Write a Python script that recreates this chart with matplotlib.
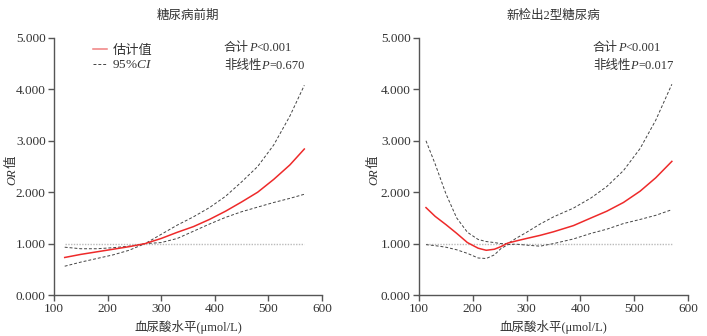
import matplotlib
matplotlib.use("Agg")
import matplotlib.pyplot as plt
from matplotlib.ticker import FormatStrFormatter
from matplotlib.lines import Line2D

plt.rcParams['font.family'] = ['Liberation Serif', 'Noto Sans CJK SC', 'DejaVu Sans']
plt.rcParams['mathtext.fontset'] = 'custom'
plt.rcParams['mathtext.it'] = 'Liberation Serif:italic'
plt.rcParams['mathtext.rm'] = 'Liberation Serif'

# ---- data: 糖尿病前期 ----
x_pre = [120, 150, 180, 210, 240, 270, 300, 330, 360, 390, 420, 450, 480, 510, 540, 567]
est_pre = [0.73, 0.79, 0.84, 0.89, 0.94, 1.00, 1.10, 1.22, 1.33, 1.47, 1.63, 1.81, 2.00, 2.25, 2.53, 2.84]
up_pre = [0.93, 0.90, 0.90, 0.92, 0.95, 1.00, 1.18, 1.36, 1.52, 1.70, 1.92, 2.20, 2.50, 2.92, 3.48, 4.08]
lo_pre = [0.56, 0.64, 0.71, 0.78, 0.87, 1.00, 1.02, 1.10, 1.24, 1.38, 1.51, 1.62, 1.71, 1.80, 1.88, 1.96]

# ---- data: 新检出2型糖尿病 ----
x_new = [113, 130, 150, 170, 190, 210, 225, 240, 252, 265, 280, 300, 325, 350, 387, 420, 449, 480, 511, 540, 570]
est_new = [1.70, 1.53, 1.37, 1.20, 1.02, 0.91, 0.87, 0.89, 0.94, 1.01, 1.05, 1.10, 1.16, 1.23, 1.35, 1.50, 1.63, 1.80, 2.02, 2.28, 2.60]
up_new = [3.00, 2.55, 1.97, 1.50, 1.22, 1.08, 1.04, 1.02, 1.00, 1.00, 1.10, 1.22, 1.38, 1.52, 1.69, 1.89, 2.11, 2.42, 2.85, 3.40, 4.10]
lo_new = [0.98, 0.96, 0.93, 0.88, 0.81, 0.72, 0.71, 0.78, 0.90, 0.98, 0.99, 0.97, 0.95, 1.00, 1.09, 1.20, 1.28, 1.39, 1.47, 1.55, 1.66]

titles = ['糖尿病前期', '新检出2型糖尿病']
p_total = ['<0.001', '<0.001']
p_nonlin = ['=0.670', '=0.017']
xticks = [100, 200, 300, 400, 500, 600]
yticks = [0, 1, 2, 3, 4, 5]

W, H = 707, 336
fig = plt.figure(figsize=(W / 100, H / 100), dpi=100)
axes = [fig.add_axes([54 / W, 41 / H, 268 / W, 257 / H]),
        fig.add_axes([419 / W, 41 / H, 269 / W, 257 / H])]
renderer = fig.canvas.get_renderer()

spine_c = '#555555'
text_c = '#333333'


def seg_text(x_px, y_px, segments, size, rotation=0):
    """Draw consecutive text segments [(text, italic)] starting at pixel pos."""
    pos = x_px if rotation == 0 else y_px
    for s, it in segments:
        if rotation == 0:
            t = fig.text(pos / W, y_px / H, s, fontsize=size, color=text_c,
                         fontstyle='italic' if it else 'normal', va='center', ha='left')
            pos += t.get_window_extent(renderer).width
        else:
            t = fig.text(x_px / W, pos / H, s, fontsize=size, color=text_c,
                         fontstyle='italic' if it else 'normal', rotation=90,
                         ha='center', va='bottom')
            pos += t.get_window_extent(renderer).height


datasets = [(x_pre, est_pre, up_pre, lo_pre), (x_new, est_new, up_new, lo_new)]
txt_x = [224, 593]
ylab_x = [12, 374]

for i, ax in enumerate(axes):
    x, est, up, lo = datasets[i]
    ax.plot([x[0], x[-1]], [1, 1], color='#bbbbbb', lw=1.0, ls=(0, (1, 1)), zorder=1)
    ax.plot(x, up, color='#444444', lw=0.7, ls=(0, (3, 2)), zorder=2)
    ax.plot(x, lo, color='#444444', lw=0.7, ls=(0, (3, 2)), zorder=2)
    ax.plot(x, est, color='#ee2a2a', lw=1.1, zorder=3)
    ax.set_xlim(100, 600)
    ax.set_ylim(0, 5)
    ax.set_xticks(xticks)
    ax.set_yticks(yticks)
    ax.yaxis.set_major_formatter(FormatStrFormatter('%.3f'))
    for s in ['top', 'right']:
        ax.spines[s].set_visible(False)
    for s in ['left', 'bottom']:
        ax.spines[s].set_color(spine_c)
        ax.spines[s].set_linewidth(1.0)
    ax.tick_params(direction='out', length=4, width=1.0, color=spine_c,
                   labelsize=9.5, labelcolor=text_c, pad=2)
    ax.set_xlabel('血尿酸水平(μmol/L)', fontsize=9, color=text_c, labelpad=3)
    ax.set_title(titles[i], fontsize=9, color=text_c, pad=14)
    seg_text(txt_x[i], H - 48, [('合计', False), ('P', True), (p_total[i], False)], 9)
    seg_text(txt_x[i], H - 66, [('非线性', False), ('P', True), (p_nonlin[i], False)], 9)
    seg_text(ylab_x[i], H - 185, [('OR', True), ('值', False)], 9, rotation=90)

handles = [Line2D([], [], color='#f08080', lw=1.1),
           Line2D([], [], color='#444444', lw=0.7, ls=(0, (3, 2)))]
leg = axes[0].legend(handles, ['估计值', '95%$CI$'], loc='upper left',
                     bbox_to_anchor=(0.1, 1.02), frameon=False, fontsize=9.5,
                     handlelength=1.1, handletextpad=0.4, labelspacing=0.15)
for t in leg.get_texts():
    t.set_color(text_c)

fig.savefig('out.png', dpi=100)
